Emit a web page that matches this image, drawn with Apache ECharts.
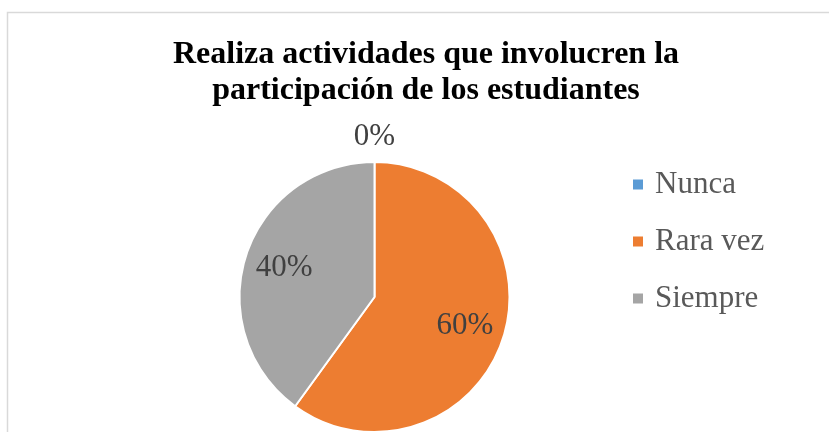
<!DOCTYPE html>
<html>
<head>
<meta charset="utf-8">
<script src="https://cdn.jsdelivr.net/npm/echarts@6/dist/echarts.min.js"></script>
<style>
  html, body { margin: 0; padding: 0; background: #fff; }
  #chart { width: 829px; height: 432px; }
</style>
</head>
<body>
<div id="chart"></div>
<script>
// datos del gráfico
var titleText = 'Realiza actividades que involucren la\nparticipación de los estudiantes'
var categories = ['Nunca', 'Rara vez', 'Siempre']
var values = [0, 60, 40]
var colors = ['#5B9BD5', '#ED7D31', '#A5A5A5']

var pieData = categories.map(function (name, i) {
  return { name: name, value: values[i] }
})

var chart = echarts.init(document.getElementById('chart'))

// serie de etiquetas (transparente), solo para ubicar los porcentajes
function labelSeries (radius, showFn) {
  return {
    type: 'pie',
    center: [374.5, 297],
    radius: [0, radius],
    startAngle: 90,
    silent: true,
    avoidLabelOverlap: false,
    itemStyle: { color: 'rgba(0,0,0,0)', borderWidth: 0 },
    emphasis: { disabled: true },
    labelLine: { show: false },
    z: 3,
    data: pieData.map(function (d) {
      return {
        name: d.name,
        value: d.value,
        label: { show: showFn(d) }
      }
    }),
    label: {
      show: true,
      position: 'inside',
      formatter: function (p) { return p.value + '%' },
      fontFamily: 'Liberation Serif',
      fontSize: 31,
      color: '#404040'
    }
  }
}

chart.setOption({
  animation: false,
  color: colors,
  title: {
    text: titleText,
    left: 426,
    top: 37,
    padding: 0,
    textAlign: 'center',
    textStyle: {
      fontFamily: 'Liberation Serif',
      fontWeight: 'bold',
      fontSize: 32,
      lineHeight: 36,
      color: '#000'
    }
  },
  legend: {
    orient: 'vertical',
    left: 628,
    top: 164,
    icon: 'rect',
    itemWidth: 10,
    itemHeight: 10,
    itemGap: 26,
    itemStyle: { borderWidth: 0 },
    data: categories,
    textStyle: {
      fontFamily: 'Liberation Serif',
      fontSize: 31,
      color: '#595959',
      padding: [0, 0, 0, 7]
    }
  },
  graphic: [{
    type: 'rect',
    shape: { x: 7.5, y: 12.5, width: 900, height: 500 },
    style: { fill: 'none', stroke: '#D9D9D9', lineWidth: 1.5 },
    silent: true,
    z: -1
  }],
  series: [
    {
      type: 'pie',
      center: [374.5, 297],
      radius: [0, 135],
      startAngle: 90,
      label: { show: false },
      labelLine: { show: false },
      itemStyle: { borderColor: '#fff', borderWidth: 2 },
      data: pieData
    },
    labelSeries(184, function (d) { return d.value > 0 }),
    labelSeries(314, function (d) { return d.value === 0 })
  ]
})
</script>
</body>
</html>
